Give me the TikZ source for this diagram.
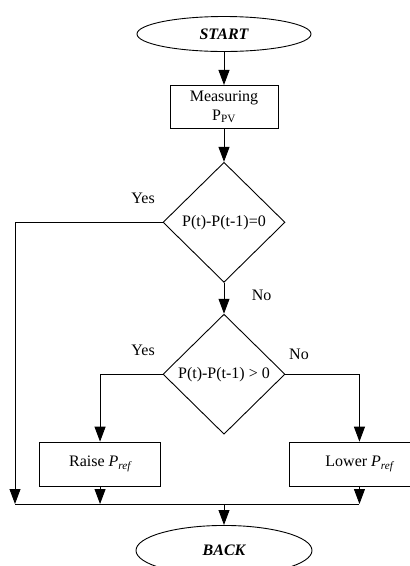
\documentclass[tikz,border=0pt]{standalone}
\usepackage{fontspec}
\setmainfont{Liberation Serif}
\usetikzlibrary{positioning,shapes.geometric,arrows.meta}

\begin{document}
\begin{tikzpicture}[x=1pt, y=1pt, font=\fontsize{16}{19}\selectfont, line width=0.9pt,
    terminal/.style={draw, ellipse, minimum width=174pt, minimum height=35pt, inner sep=0pt,
        font=\fontsize{16}{19}\selectfont\bfseries\itshape},
    process/.style={draw, rectangle, minimum height=44pt, align=center},
    decision/.style={draw, diamond, minimum width=122pt, minimum height=120pt, inner sep=0pt},
    flow/.style={-{Triangle[length=15pt,width=11pt]}}]
    \useasboundingbox (0,0) rectangle (410,-566);
    \node[terminal] (start) at (224,-34) {START};
    \node[process, below=33pt of start, minimum width=108pt, minimum height=43pt] (measure) {Measuring\\P\textsubscript{PV}};
    \node[decision, below=33pt of measure] (diffZero) {P(t)-P(t-1)=0};
    \node[decision, below=31pt of diffZero] (diffPos) {P(t)-P(t-1) > 0};
    \node[process, below left=7pt and 63pt of diffPos.south, minimum width=121pt] (raise) {Raise \textit{P\textsubscript{ref}}};
    \node[process, below right=7pt and 65pt of diffPos.south, minimum width=140pt] (lower) {Lower \textit{P\textsubscript{ref}}};
    \coordinate (joinL) at (15,-504);
    \coordinate (joinA) at (raise.south |- joinL);
    \coordinate (joinR) at (lower.south |- joinL);
    \coordinate (joinM) at (joinL -| start);
    \node[terminal, below=21pt of joinM, minimum width=176pt, minimum height=50pt] (back) {BACK};

    \node[above left=15pt and 4pt of diffZero.west] (yesZero) {Yes};
    \node[above left=15pt and 4pt of diffPos.west] (yesPos) {Yes};
    \node[above right=11pt and 0pt of diffPos.east] (noPos) {No};

    \draw[flow] (start) -- (measure);
    \draw[flow] (measure) -- (diffZero);
    \draw[flow] (diffZero) -- node[pos=0.4, right=24pt] (noZero) {No} (diffPos);
    \draw[flow] (diffZero.west) -| (joinL);
    \draw[flow] (diffPos.west) -| (raise.north);
    \draw[flow] (diffPos.east) -| (lower.north);
    \draw[flow] (raise) -- (joinA);
    \draw[flow] (lower) -- (joinR);
    \draw (joinL) -- (joinR);
    \draw[flow] (joinM) -- (back);
\end{tikzpicture}
\end{document}
